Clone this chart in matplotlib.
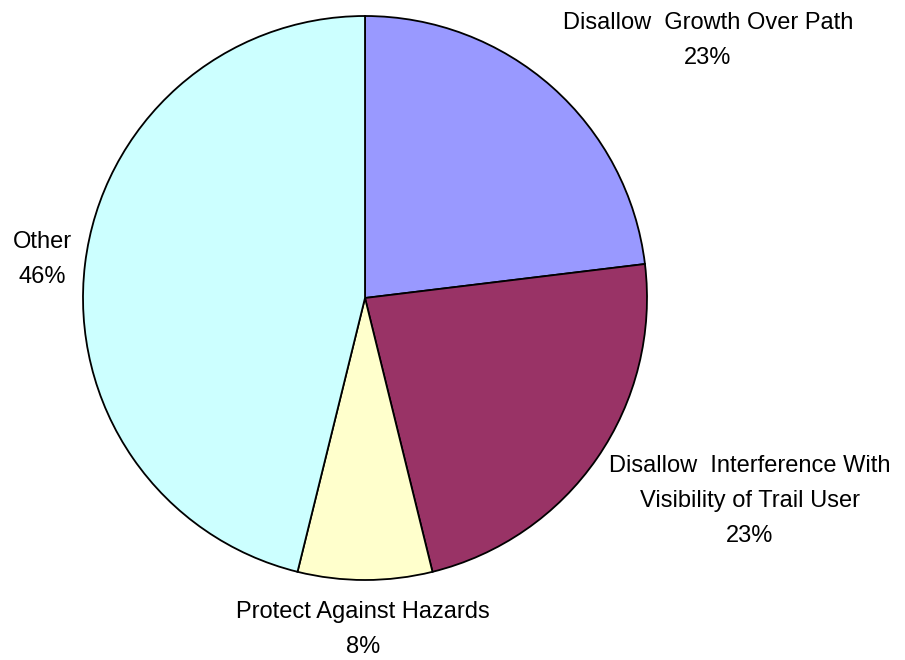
import matplotlib.pyplot as plt

# slice data, clockwise from 12 o'clock
categories = ["Disallow  Growth Over Path",
              "Disallow  Interference With\nVisibility of Trail User",
              "Protect Against Hazards",
              "Other"]
counts = [3, 3, 1, 6]
colors = ["#9999FF", "#993366", "#FFFFCC", "#CCFFFF"]

# label anchors (pixel coords, first baseline) for each slice
label_x = [708, 750, 363, 42]
label_y = [29, 472, 618, 248]

plt.rcParams['font.family'] = ['Liberation Sans', 'DejaVu Sans']

W, H = 905, 660
fig = plt.figure(figsize=(W / 100, H / 100), dpi=100)
ax = fig.add_axes([0, 0, 1, 1])

ax.pie(counts, colors=colors, startangle=90, counterclock=False,
       center=(365, H - 298), radius=282,
       wedgeprops=dict(edgecolor="black", linewidth=1.3))
ax.set_xlim(0, W)
ax.set_ylim(0, H)
ax.set_aspect("equal")
ax.axis("off")

total = sum(counts)
for cat, n, x, y in zip(categories, counts, label_x, label_y):
    lines = cat.split("\n") + ["%d%%" % round(100 * n / total)]
    for i, line in enumerate(lines):
        ax.text(x, H - y - i * 35, line, ha="center", va="baseline",
                fontsize=17, color="black")

fig.savefig("out.png", dpi=100)
